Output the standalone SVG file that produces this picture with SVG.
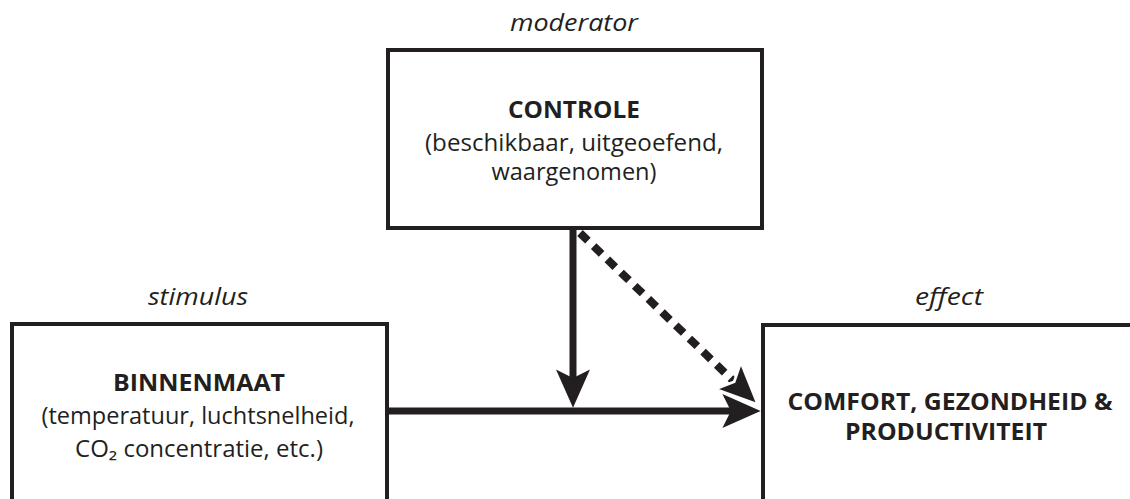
<svg xmlns="http://www.w3.org/2000/svg" width="1130" height="499" viewBox="0 0 1130 499">
<style>
.box{fill:#fff;stroke:#231f20;stroke-width:4}
text{font-family:"Open Sans",Lato,"Liberation Sans",sans-serif;fill:#231f20;text-anchor:middle}
.t{font-size:23px;font-weight:bold}
.s{font-size:23px}
.i{font-size:23px;font-style:italic}
.arrow{stroke:#231f20;stroke-width:7;fill:none}
.dash{stroke-width:8;stroke-dasharray:11 8}
</style>
<defs>
<marker id="head" markerUnits="userSpaceOnUse" markerWidth="40" markerHeight="34" viewBox="0 0 36 32" refX="26" refY="16" orient="auto">
<path d="M0,0 L36,16 L0,32 L8,16 z" fill="#231f20"/>
</marker>
<marker id="headw" markerUnits="userSpaceOnUse" markerWidth="46" markerHeight="42" viewBox="-2 -2 42 38" refX="28" refY="17" orient="auto">
<path d="M0,0 L38,17 L0,34 L8,17 z" fill="#231f20" stroke="#fff" stroke-width="2.5"/>
</marker>
</defs>
<g id="controle">
<text class="i" x="574" y="31" textLength="128" lengthAdjust="spacingAndGlyphs">moderator</text>
<rect class="box" x="388" y="50" width="374" height="178"/>
<text class="t" x="574" y="118" textLength="132" lengthAdjust="spacingAndGlyphs">CONTROLE</text>
<text class="s" x="574" y="151" textLength="298" lengthAdjust="spacingAndGlyphs">(beschikbaar, uitgeoefend,</text>
<text class="s" x="574" y="180" textLength="165" lengthAdjust="spacingAndGlyphs">waargenomen)</text>
</g>
<g id="binnenmaat">
<text class="i" x="198" y="305" textLength="100" lengthAdjust="spacingAndGlyphs">stimulus</text>
<rect class="box" x="12" y="324" width="375" height="200"/>
<text class="t" x="199" y="391" textLength="172" lengthAdjust="spacingAndGlyphs">BINNENMAAT</text>
<text class="s" x="198" y="424" textLength="313" lengthAdjust="spacingAndGlyphs">(temperatuur, luchtsnelheid,</text>
<text class="s" x="199" y="457" textLength="248" lengthAdjust="spacingAndGlyphs">CO₂ concentratie, etc.)</text>
</g>
<g id="effect">
<text class="i" x="949" y="305" textLength="68" lengthAdjust="spacingAndGlyphs">effect</text>
<rect class="box" x="763" y="325" width="400" height="200"/>
<text class="t" x="950" y="410" textLength="325" lengthAdjust="spacingAndGlyphs">COMFORT, GEZONDHEID &amp;</text>
<text class="t" x="946" y="440" textLength="202" lengthAdjust="spacingAndGlyphs">PRODUCTIVITEIT</text>
</g>
<g id="connectors">
<line class="arrow" x1="387" y1="411" x2="750" y2="411" marker-end="url(#head)"/>
<line class="arrow" x1="573" y1="228" x2="573" y2="397" marker-end="url(#head)"/>
<line class="arrow dash" x1="580" y1="233" x2="750" y2="397" marker-end="url(#headw)"/>
</g>
</svg>
